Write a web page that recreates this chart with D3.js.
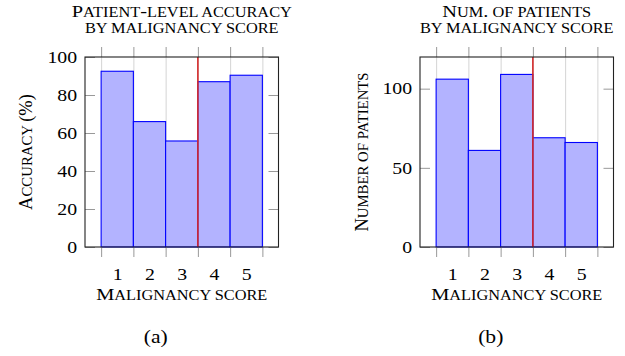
<!DOCTYPE html>
<meta charset="utf-8">
<html>
<head>
	<script src="https://cdn.jsdelivr.net/npm/d3@7"></script>
	<style>
		body { margin: 0; background: #fff; }
		text { font-family: "Liberation Serif", "Times New Roman", serif; fill: #000; }
		.axis path { display: none; }
		.tick line { stroke: #999; }
		.grid line { stroke: #d4d4d4; }
		.tick text { font-size: 16.5px; }
	</style>
</head>
<body>
	<svg id="chart" width="625" height="356"></svg>
	<script>
		// malignancy score bins
		var scores = [1, 2, 3, 4, 5];
		var binEdges = [0.5, 1.5, 2.5, 3.5, 4.5, 5.5];
		var threshold = 3.5;

		// panel (a): patient-level accuracy (%)
		var accuracy = [92.5, 66, 55.8, 87, 90.4];
		var accTicks = [0, 20, 40, 60, 80, 100];

		// panel (b): number of patients
		var patients = [106, 61, 109, 69, 66];
		var patTicks = [0, 50, 100];

		var svg = d3.select("#chart");
		var top0 = 57, bottom0 = 247;
		var sx = 1.2; // text in the reference is a bit wide

		// fake small caps: lowercase letters become smaller capitals
		function smallCaps(t, str, size) {
			var runs = [];
			str.split("").forEach(function(ch) {
				var small = (ch === " " || (ch.toUpperCase() !== ch));
				if (runs.length && runs[runs.length - 1].small === small) runs[runs.length - 1].s += ch;
				else runs.push({small: small, s: ch});
			});
			runs.forEach(function(r) {
				t.append("tspan")
					.style("font-size", (r.small ? size * 0.8 : size) + "px")
					.text(r.s.toUpperCase());
			});
			return t;
		}

		function label(x, y, str, size, transform) {
			var t = svg.append("text")
				.attr("text-anchor", "middle")
				.attr("transform", "translate(" + x + "," + y + ") " + transform);
			return smallCaps(t, str, size);
		}

		var panels = [
			{left: 85, right: 278.5, ymax: 100, values: accuracy, ticks: accTicks,
			 title: ["Patient-level accuracy", "by malignancy score"], ylabel: "Accuracy (%)",
			 ylabelX: 26, caption: "(a)"},
			{left: 420, right: 613.5, ymax: 120, values: patients, ticks: patTicks,
			 title: ["Num. of patients", "by malignancy score"], ylabel: "Number of patients",
			 ylabelX: 362, caption: "(b)"}
		];

		panels.forEach(function(p) {
			var x = d3.scaleLinear().domain([0, 6]).range([p.left, p.right]);
			var y = d3.scaleLinear().domain([0, p.ymax]).range([bottom0, top0]);
			var w = p.right - p.left, h = bottom0 - top0;
			var cx = (p.left + p.right) / 2;

			// vertical grid at bin edges
			svg.append("g")
				.attr("class", "axis grid")
				.attr("transform", "translate(0," + bottom0 + ")")
				.call(d3.axisBottom(x).tickValues(binEdges).tickSize(-h).tickFormat(""));

			// bars
			svg.append("g").selectAll("rect")
				.data(p.values)
				.enter().append("rect")
					.attr("x", function(d, i) { return x(scores[i] - 0.5); })
					.attr("width", function(d, i) { return x(scores[i] + 0.5) - x(scores[i] - 0.5); })
					.attr("y", function(d) { return y(d); })
					.attr("height", function(d) { return y(0) - y(d); })
					.attr("fill", "#b3b3ff")
					.attr("stroke", "#0000ff")
					.attr("stroke-width", 1.1);

			// threshold line
			svg.append("line")
				.attr("x1", x(threshold)).attr("x2", x(threshold))
				.attr("y1", y(0)).attr("y2", top0)
				.attr("stroke", "#d42a2a")
				.attr("stroke-width", 1.6);

			// outward x ticks top and bottom
			svg.append("g")
				.attr("class", "axis")
				.attr("transform", "translate(0," + bottom0 + ")")
				.call(d3.axisBottom(x).tickValues(binEdges).tickSize(10).tickFormat(""));
			svg.append("g")
				.attr("class", "axis")
				.attr("transform", "translate(0," + top0 + ")")
				.call(d3.axisTop(x).tickValues(binEdges).tickSize(10).tickFormat(""));

			// x labels at bin centres
			svg.append("g")
				.attr("class", "axis")
				.attr("transform", "translate(0," + bottom0 + ")")
				.call(d3.axisBottom(x).tickValues(scores).tickSize(0).tickPadding(21).tickFormat(d3.format("d")))
				.selectAll("text").attr("transform", "scale(" + sx + ",1)");

			// inward y ticks, left with labels, right without
			svg.append("g")
				.attr("class", "axis")
				.attr("transform", "translate(" + p.left + ",0)")
				.call(d3.axisLeft(y).tickValues(p.ticks).tickSize(-10).tickPadding(6.6))
				.selectAll("text").attr("transform", "scale(" + sx + ",1)");
			svg.append("g")
				.attr("class", "axis")
				.attr("transform", "translate(" + p.right + ",0)")
				.call(d3.axisRight(y).tickValues(p.ticks).tickSize(-10).tickFormat(""));

			// frame
			svg.append("rect")
				.attr("x", p.left).attr("y", top0)
				.attr("width", w).attr("height", h)
				.attr("fill", "none")
				.attr("stroke", "#222")
				.attr("stroke-width", 1.1);

			// title, two lines
			label(cx, 17, p.title[0], 17, "scale(" + sx + ",1)");
			label(cx, 33, p.title[1], 17, "scale(" + sx + ",1)");

			// axis labels
			label(cx, 300, "Malignancy score", 17, "scale(" + sx + ",1)");
			label(p.ylabelX, (top0 + bottom0) / 2, p.ylabel, 18.5, "rotate(-90)")
				.attr("dy", "0.35em");

			// caption
			svg.append("text")
				.attr("text-anchor", "middle")
				.attr("transform", "translate(" + (cx - 26) + ",343) scale(" + sx + ",1)")
				.style("font-size", "18px")
				.text(p.caption);
		});
	</script>
</body>
</html>
